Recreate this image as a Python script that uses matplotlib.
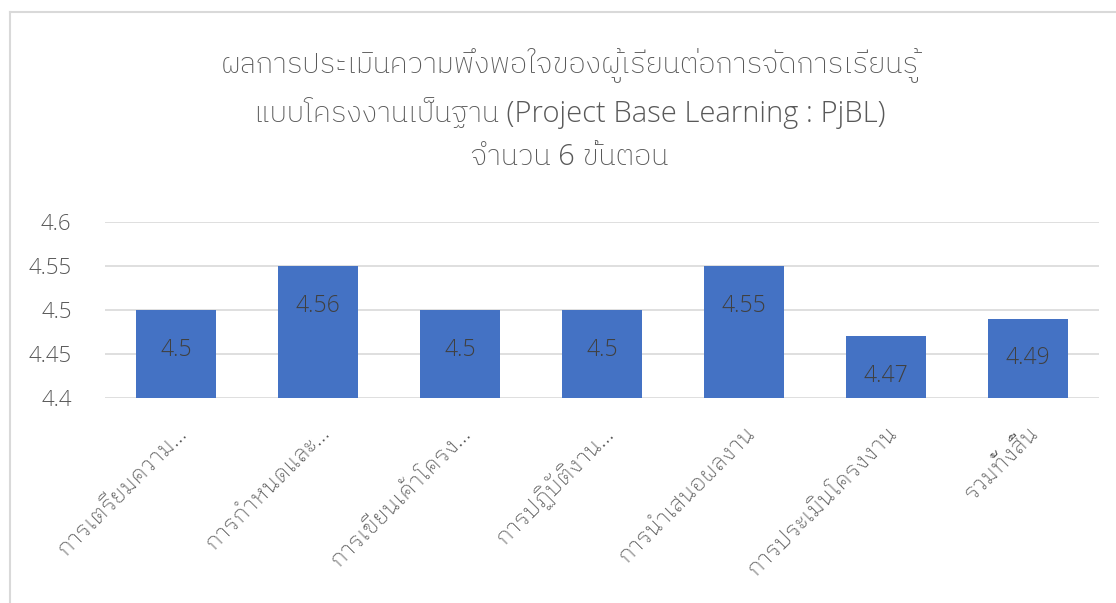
import matplotlib
matplotlib.use("Agg")
import matplotlib.pyplot as plt
from matplotlib.lines import Line2D
from matplotlib.transforms import ScaledTranslation

# ข้อมูล
steps = ["การเตรียมความ…", "การกำหนดและ…", "การเขียนเค้าโครง…", "การปฏิบัติงาน…",
         "การนำเสนอผลงาน", "การประเมินโครงงาน", "รวมทั้งสิ้น"]
scores = [4.5, 4.55, 4.5, 4.5, 4.55, 4.47, 4.49]
score_labels = ["4.5", "4.56", "4.5", "4.5", "4.55", "4.47", "4.49"]
yticks = [4.4, 4.45, 4.5, 4.55, 4.6]
ytick_labels = ["4.4", "4.45", "4.5", "4.55", "4.6"]

title = ("ผลการประเมินความพึงพอใจของผู้เรียนต่อการจัดการเรียนรู้\n"
         "แบบโครงงานเป็นฐาน (Project Base Learning : PjBL)\n"
         "จำนวน 6 ขั้นตอน")

thai = ["Open Sans", "IBM Plex Sans Thai"]
thai_looped = ["Open Sans", "IBM Plex Sans Thai Looped"]

fig = plt.figure(figsize=(11.16, 6.03), dpi=100)
ax = fig.add_axes([105 / 1116, 1 - 398 / 603, 994 / 1116, 176 / 603])

x = range(len(steps))
ax.bar(x, [s - 4.4 for s in scores], bottom=4.4, width=0.57, color="#4472c4", zorder=2)

for i, (s, lab) in enumerate(zip(scores, score_labels)):
    ax.annotate(lab, xy=(i, s), xytext=(0, -28.5), textcoords="offset points",
                ha="center", va="center", fontsize=16.5, color="#404040",
                family=thai, fontweight="light", zorder=3)

ax.set_xlim(-0.5, len(steps) - 0.5)
ax.set_ylim(4.4, 4.6)
ax.set_yticks(yticks)
ax.set_yticklabels(ytick_labels, fontsize=16, color="#595959", family=thai,
                   fontweight="light")
ax.grid(axis="y", color="#d9d9d9", linewidth=1.2, zorder=0)
ax.tick_params(axis="both", length=0)
ax.tick_params(axis="y", pad=24)
for sp in ax.spines.values():
    sp.set_visible(False)

ax.set_xticks(list(x))
ax.set_xticklabels(steps, fontsize=16.5, color="#505050", family=thai_looped,
                   fontweight="light", rotation=45, ha="right", va="center",
                   rotation_mode="anchor")
off = ScaledTranslation(8 / 100, -27 / 100, fig.dpi_scale_trans)
for lab in ax.get_xticklabels():
    lab.set_transform(lab.get_transform() + off)

fig.text(570 / 1116, 1 - 110 / 603, title, ha="center", va="center",
         fontsize=21, color="#595959", family=thai, fontweight="light",
         linespacing=1.6)

# กรอบแผนภูมิ
fig.add_artist(Line2D([10 / 1116, 1], [1 - 12 / 603, 1 - 12 / 603],
                      transform=fig.transFigure, color="#d9d9d9", linewidth=1.5))
fig.add_artist(Line2D([10 / 1116, 10 / 1116], [0, 1 - 12 / 603],
                      transform=fig.transFigure, color="#d9d9d9", linewidth=1.5))

fig.savefig("out.png", dpi=100)
